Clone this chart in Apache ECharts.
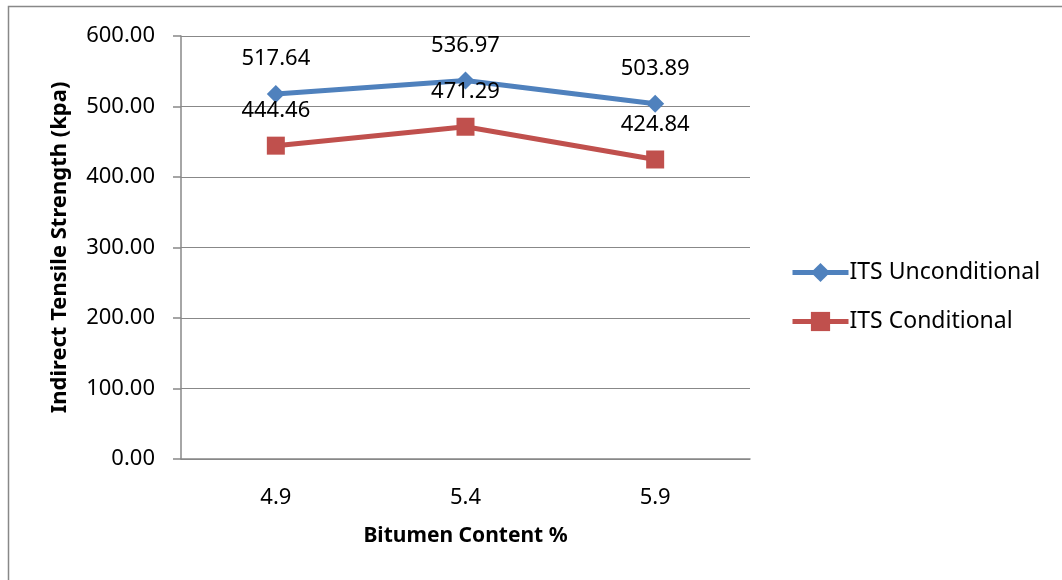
<!DOCTYPE html>
<html>
<head>
<meta charset="utf-8">
<script src="https://cdn.jsdelivr.net/npm/echarts@6/dist/echarts.min.js"></script>
<style type="text/css">
html, body{margin: 0; padding: 0; background: #fff;}
#myChart{width: 1062px; height: 580px;}
</style>
</head>
<body>
<div id="myChart"></div>
<script>
// data
var categories = ['4.9', '5.4', '5.9'];
var unconditional = [517.64, 536.97, 503.89];
var conditional = [444.46, 471.29, 424.84];
var yTicks = [0, 100, 200, 300, 400, 500, 600];

var font = '"Noto Sans", "Open Sans", sans-serif';

var myChart = echarts.init(document.getElementById('myChart'));
var options = {
    animation: false,
    backgroundColor: '#fff',
    graphic: [{
        type: 'rect',
        shape: {x: 8.5, y: 6.5, width: 1070, height: 590},
        style: {fill: 'none', stroke: '#888', lineWidth: 1.5}
    }],
    grid: {left: 181, top: 36, right: 312, bottom: 121},
    legend: {
        orient: 'vertical',
        left: 785,
        top: 256,
        itemWidth: 56,
        itemHeight: 24,
        itemGap: 26,
        lineStyle: {width: 5},
        textStyle: {fontFamily: font, fontSize: 23, color: '#000', padding: [0, 0, 0, -4]},
        data: ['ITS Unconditional', 'ITS Conditional']
    },
    xAxis: {
        type: 'category',
        data: categories,
        name: 'Bitumen Content %',
        nameLocation: 'middle',
        nameGap: 67,
        nameTextStyle: {fontFamily: font, fontSize: 21, fontWeight: 'bold', color: '#000'},
        axisLine: {lineStyle: {color: '#888', width: 1.5}},
        axisTick: {show: false},
        axisLabel: {fontFamily: font, fontSize: 22, color: '#000', margin: 28}
    },
    yAxis: {
        type: 'value',
        min: yTicks[0],
        max: yTicks[yTicks.length - 1],
        interval: 100,
        name: 'Indirect Tensile Strength (kpa)',
        nameLocation: 'middle',
        nameGap: 110,
        nameRotate: 90,
        nameTextStyle: {fontFamily: font, fontSize: 22, fontWeight: 'bold', color: '#000'},
        axisLine: {show: true, lineStyle: {color: '#888', width: 1.5}},
        axisTick: {show: true, length: 8, lineStyle: {color: '#888', width: 1.5}},
        splitLine: {lineStyle: {color: '#888', width: 1.2}},
        axisLabel: {
            fontFamily: font, fontSize: 22, color: '#000', margin: 26,
            formatter: function(v){ return v.toFixed(2); }
        }
    },
    series: [{
        name: 'ITS Unconditional',
        type: 'line',
        data: unconditional,
        symbol: 'diamond',
        symbolSize: 18,
        itemStyle: {color: '#4F81BD'},
        lineStyle: {width: 5, color: '#4F81BD'},
        label: {
            show: true, position: 'top', distance: 15,
            fontFamily: font, fontSize: 22, color: '#000',
            formatter: function(p){ return p.value.toFixed(2); }
        }
    }, {
        name: 'ITS Conditional',
        type: 'line',
        data: conditional,
        symbol: 'rect',
        symbolSize: 18,
        itemStyle: {color: '#C0504D'},
        lineStyle: {width: 5, color: '#C0504D'},
        label: {
            show: true, position: 'top', distance: 15,
            fontFamily: font, fontSize: 22, color: '#000',
            formatter: function(p){ return p.value.toFixed(2); }
        }
    }]
};
myChart.setOption(options);
</script>
</body>
</html>
